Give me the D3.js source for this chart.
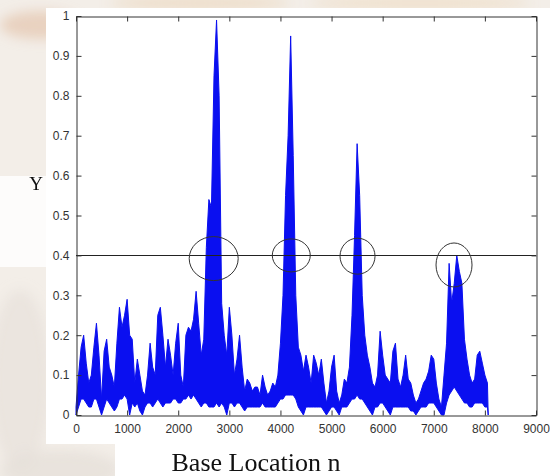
<!DOCTYPE html>
<html>
<head>
<meta charset="utf-8">
<script src="https://cdn.jsdelivr.net/npm/d3@7"></script>
<style>
  body { margin: 0; background: #f3eee8; }
  svg { display: block; }
</style>
</head>
<body>
<svg id="canvas"></svg>
<script>
// signal envelope, one sample every 50 bases (0 .. 8050)
let step = 50
let upper = [
  0.02,0.10,0.17,0.20,0.13,0.08,0.10,0.17,0.23,0.15, 0.04,0.16,0.19,0.12,0.10,0.07,0.18,0.27,0.22,0.25,
  0.29,0.20,0.19,0.08,0.14,0.10,0.06,0.05,0.10,0.18, 0.12,0.10,0.25,0.27,0.20,0.12,0.19,0.15,0.10,0.18,
  0.23,0.10,0.07,0.20,0.22,0.21,0.24,0.31,0.23,0.15, 0.19,0.42,0.54,0.52,0.85,0.99,0.80,0.28,0.20,0.15,
  0.27,0.20,0.10,0.14,0.20,0.12,0.06,0.09,0.08,0.06, 0.07,0.07,0.05,0.10,0.07,0.05,0.06,0.08,0.07,0.10,
  0.18,0.30,0.55,0.70,0.95,0.65,0.30,0.17,0.15,0.11, 0.15,0.12,0.08,0.15,0.13,0.10,0.14,0.08,0.03,0.06,
  0.12,0.15,0.06,0.03,0.05,0.09,0.08,0.12,0.25,0.45, 0.68,0.55,0.30,0.20,0.15,0.12,0.08,0.07,0.10,0.21,
  0.15,0.10,0.09,0.08,0.16,0.18,0.09,0.07,0.10,0.15, 0.09,0.08,0.05,0.03,0.04,0.06,0.08,0.09,0.11,0.15,
  0.14,0.08,0.04,0.02,0.10,0.18,0.38,0.28,0.33,0.40, 0.36,0.33,0.19,0.14,0.10,0.08,0.09,0.15,0.16,0.13,
  0.10,0.08
]
let lower = [
  0.00,0.02,0.04,0.04,0.03,0.02,0.02,0.04,0.04,0.02, 0.00,0.02,0.04,0.03,0.02,0.01,0.02,0.04,0.04,0.05,
  0.04,0.00,0.03,0.02,0.03,0.01,0.00,0.02,0.03,0.03, 0.02,0.03,0.04,0.03,0.02,0.03,0.03,0.03,0.04,0.04,
  0.03,0.03,0.04,0.04,0.05,0.04,0.05,0.04,0.03,0.02, 0.03,0.03,0.02,0.02,0.02,0.03,0.02,0.03,0.02,0.00,
  0.03,0.03,0.02,0.03,0.03,0.02,0.01,0.02,0.02,0.02, 0.02,0.02,0.02,0.03,0.02,0.02,0.02,0.02,0.02,0.03,
  0.04,0.04,0.05,0.05,0.05,0.05,0.04,0.02,0.01,0.00, 0.02,0.02,0.02,0.02,0.02,0.02,0.02,0.01,0.00,0.01,
  0.02,0.02,0.01,0.00,0.02,0.02,0.02,0.03,0.04,0.04, 0.05,0.04,0.04,0.03,0.02,0.01,0.00,0.02,0.02,0.03,
  0.03,0.02,0.01,0.00,0.02,0.02,0.02,0.02,0.02,0.02, 0.02,0.01,0.01,0.00,0.01,0.02,0.02,0.02,0.03,0.03,
  0.03,0.02,0.01,0.00,0.00,0.03,0.05,0.06,0.07,0.06, 0.05,0.04,0.03,0.03,0.02,0.02,0.03,0.03,0.03,0.03,
  0.02,0.02
]
let threshold = 0.4
// circled crossings (base location, value)
let circleX = [2694, 4212, 5508, 7396]
let circleY = [0.392, 0.40, 0.398, 0.376]

let xTicks = [0,1000,2000,3000,4000,5000,6000,7000,8000,9000]
let yTicks = [0,0.1,0.2,0.3,0.4,0.5,0.6,0.7,0.8,0.9,1]

let width = 550
let height = 476
let mLeft = 76, mTop = 16, mRight = 536, mBottom = 415

let svg = d3.select('#canvas').attr('width', width).attr('height', height)

// faint watermark background
let defs = svg.append('defs')
defs.append('filter').attr('id', 'blur').append('feGaussianBlur').attr('stdDeviation', 6)
svg.append('rect').attr('width', width).attr('height', height).attr('fill', '#f3eee8')
let wm = svg.append('g').attr('filter', 'url(#blur)')
wm.append('ellipse').attr('cx', 40).attr('cy', 25).attr('rx', 40).attr('ry', 14).attr('fill', '#e6cbb5').attr('opacity', 0.8)
wm.append('ellipse').attr('cx', 200).attr('cy', 3).attr('rx', 90).attr('ry', 6).attr('fill', '#ecd7bd').attr('opacity', 0.8)
wm.append('ellipse').attr('cx', 420).attr('cy', 3).attr('rx', 110).attr('ry', 6).attr('fill', '#efdcc3').attr('opacity', 0.8)
wm.append('ellipse').attr('cx', 20).attr('cy', 380).attr('rx', 30).attr('ry', 90).attr('fill', '#e8e2dc').attr('opacity', 0.8)
wm.append('ellipse').attr('cx', 60).attr('cy', 470).attr('rx', 60).attr('ry', 20).attr('fill', '#e6e0da').attr('opacity', 0.8)

// white figure areas
svg.append('rect').attr('x', 46).attr('y', 8).attr('width', width - 46).attr('height', 436).attr('fill', '#fff')
svg.append('rect').attr('x', 115).attr('y', 444).attr('width', width - 115).attr('height', 32).attr('fill', '#fff')
svg.append('rect').attr('x', 0).attr('y', 176).attr('width', 46).attr('height', 91).attr('fill', '#fdfcfb')

let x = d3.scaleLinear().domain([0, 9000]).range([mLeft, mRight])
let y = d3.scaleLinear().domain([0, 1]).range([mBottom, mTop])

let samples = upper.map((u, i) => ({n: i * step, hi: u, lo: lower[i]}))
samples.push({n: samples[samples.length - 1].n + 15, hi: 0, lo: 0})

let area = d3.area()
  .x(d => x(d.n))
  .y0(d => y(d.lo))
  .y1(d => y(d.hi))

svg.append('path')
  .datum(samples)
  .attr('d', area)
  .attr('fill', '#0a0ff0')
  .attr('stroke', '#0a0ff0')
  .attr('stroke-width', 1)
  .attr('stroke-linejoin', 'miter')

// threshold line
svg.append('line')
  .attr('x1', x(0)).attr('x2', x(9000))
  .attr('y1', Math.round(y(threshold)) + 0.5).attr('y2', Math.round(y(threshold)) + 0.5)
  .attr('stroke', '#222').attr('stroke-width', 1)

// circles
let rx = [24.5, 19, 17.5, 18]
let ry = [22, 16.5, 18, 22]
svg.selectAll('ellipse.mark')
  .data(circleX)
  .enter()
  .append('ellipse')
  .attr('class', 'mark')
  .attr('cx', (d) => x(d))
  .attr('cy', (d, i) => y(circleY[i]))
  .attr('rx', (d, i) => rx[i])
  .attr('ry', (d, i) => ry[i])
  .attr('fill', 'none')
  .attr('stroke', '#333')
  .attr('stroke-width', 1)

// axes, ticks inward on all four sides
let axisColor = '#333'
let font = '"Liberation Sans", Arial, sans-serif'

let xAxis = svg.append('g').attr('transform', `translate(0,${mBottom + 0.5})`)
  .call(d3.axisBottom(x).tickValues(xTicks).tickSizeInner(-5).tickSizeOuter(0).tickPadding(10).tickFormat(d3.format('d')))
let xTop = svg.append('g').attr('transform', `translate(0,${mTop + 0.5})`)
  .call(d3.axisTop(x).tickValues(xTicks).tickSizeInner(-5).tickSizeOuter(0).tickFormat(''))
let yAxis = svg.append('g').attr('transform', `translate(${mLeft + 0.5},0)`)
  .call(d3.axisLeft(y).tickValues(yTicks).tickSizeInner(-5).tickSizeOuter(0).tickPadding(7).tickFormat(d => d === 0 || d === 1 ? d : d3.format('.1f')(d)))
let yRight = svg.append('g').attr('transform', `translate(${mRight + 0.5},0)`)
  .call(d3.axisRight(y).tickValues(yTicks).tickSizeInner(-5).tickSizeOuter(0).tickFormat(''))

svg.selectAll('.domain').attr('stroke', axisColor)
svg.selectAll('.tick line').attr('stroke', axisColor)
svg.selectAll('.tick text').attr('fill', '#333').style('font-family', font).style('font-size', '12px')
xAxis.selectAll('.tick text').attr('dy', '0.71em').attr('y', 9)

// axis labels
svg.append('text')
  .attr('x', 256).attr('y', 471)
  .attr('text-anchor', 'middle')
  .style('font-family', '"Liberation Serif", "Times New Roman", serif')
  .style('font-size', '26px')
  .attr('fill', '#111')
  .text('Base Location n')

svg.append('text')
  .attr('x', 36).attr('y', 190)
  .attr('text-anchor', 'middle')
  .style('font-family', '"Liberation Serif", "Times New Roman", serif')
  .style('font-size', '19px')
  .attr('fill', '#111')
  .text('Y')
</script>
</body>
</html>
